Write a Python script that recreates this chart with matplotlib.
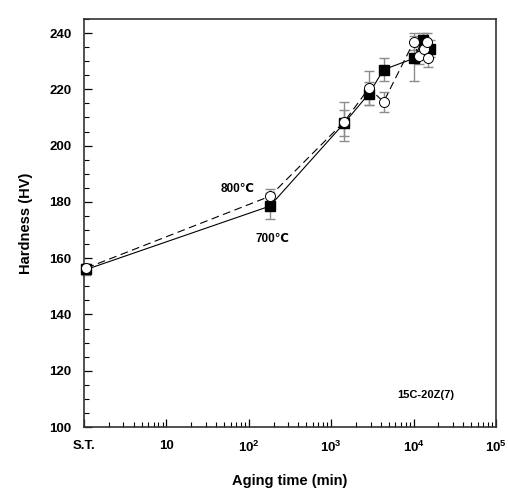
import matplotlib
matplotlib.use("Agg")
import matplotlib.pyplot as plt
from matplotlib.ticker import LogLocator, NullFormatter, MultipleLocator

plt.rcParams['font.family'] = ['Liberation Sans', 'DejaVu Sans']
plt.rcParams['font.weight'] = 'bold'
plt.rcParams['mathtext.fontset'] = 'custom'
plt.rcParams['mathtext.rm'] = 'Liberation Sans:bold'
plt.rcParams['mathtext.bf'] = 'Liberation Sans:bold'

# 700℃ (filled squares, solid line)
t700 = [1.07, 180, 1440, 2880, 4320, 10080, 12960, 15840]
hv700 = [156, 178.5, 208, 218.5, 227, 231, 237.5, 234.5]
err700 = [2, 4.5, 4.5, 4, 4, 8, 2.5, 3]

# 800℃ (open circles, dashed line)
t800 = [1.07, 180, 1440, 2880, 4320, 10080, 11520, 13440, 14400, 15120]
hv800 = [156.5, 182, 208.5, 220.5, 215.5, 237, 232, 234.5, 237, 231]
err800 = [1.5, 2.5, 7, 6, 3.5, 3, 3, 2.5, 3, 3]

xticks = [1, 10, 100, 1000, 10000, 100000]
xticklabels = ['S.T.', '10', r'$10^2$', r'$10^3$', r'$10^4$', r'$10^5$']

fig = plt.figure(figsize=(5.08, 4.90), dpi=100)
ax = fig.add_axes([84/508, 1 - 427/490, 412/508, 408/490])

ax.errorbar(t700, hv700, yerr=err700, fmt='none', ecolor='#8c8c8c',
            elinewidth=1, capsize=3.6, capthick=1, zorder=2, clip_on=False)
ax.errorbar(t800, hv800, yerr=err800, fmt='none', ecolor='#8c8c8c',
            elinewidth=1, capsize=3.6, capthick=1, zorder=2, clip_on=False)

ax.plot(t700, hv700, '-', color='black', lw=0.8, zorder=3, clip_on=False)
ax.plot(t800, hv800, '--', color='black', lw=0.8, dashes=(7, 4), zorder=3, clip_on=False)
ax.plot(t700, hv700, 's', ms=6.5, mfc='black', mec='black', zorder=4, clip_on=False)
ax.plot(t800, hv800, 'o', ms=7.2, mfc='white', mec='black', mew=0.7, zorder=5, clip_on=False)

ax.set_xscale('log')
ax.set_xlim(1, 1e5)
ax.set_ylim(100, 245)

ax.set_xticks(xticks)
ax.set_xticklabels(xticklabels)
ax.xaxis.set_minor_locator(LogLocator(base=10, subs=range(2, 10)))
ax.xaxis.set_minor_formatter(NullFormatter())
ax.set_yticks(range(100, 241, 20))
ax.yaxis.set_minor_locator(MultipleLocator(5))

ax.tick_params(axis='both', which='both', direction='in', labelsize=9.5,
               top=False, right=False)
ax.tick_params(axis='both', which='major', length=6, width=0.9, pad=9)
ax.tick_params(axis='both', which='minor', length=3.5, width=0.8)
for lab in ax.get_xticklabels() + ax.get_yticklabels():
    lab.set_fontweight('bold')

for s in ax.spines.values():
    s.set_linewidth(1.2)
    s.set_color('#333333')

ax.set_xlabel('Aging time (min)', fontsize=10.5, fontweight='bold', labelpad=14)
ax.set_ylabel('Hardness (HV)', fontsize=10.5, fontweight='bold', labelpad=12)

ax.text(74, 184.6, '800\u2103', fontsize=8.5, fontweight='bold', ha='center', va='center')
ax.text(194, 166.8, '700\u2103', fontsize=8.5, fontweight='bold', ha='center', va='center')
ax.text(1.4e4, 111.4, '15C-20Z(7)', fontsize=8, fontweight='bold', ha='center', va='center')

fig.savefig('out.png', dpi=100)
